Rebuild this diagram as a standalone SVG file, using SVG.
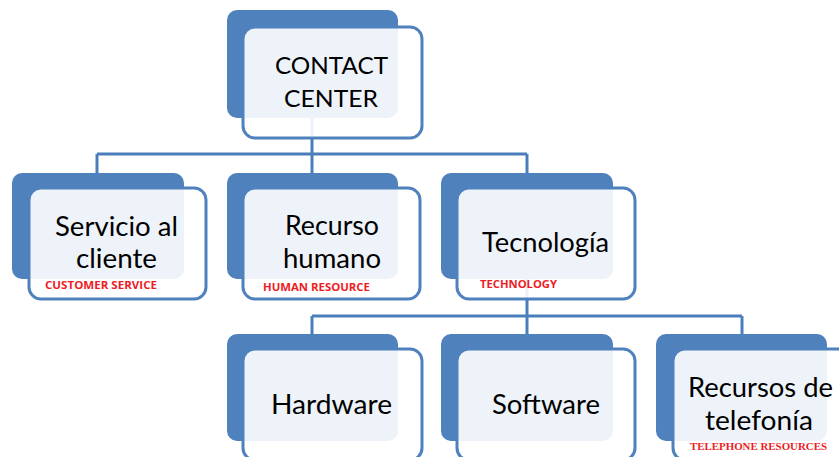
<svg xmlns="http://www.w3.org/2000/svg" width="839" height="457" viewBox="0 0 839 457">
  <style>
    .back { fill: #4F81BD; }
    .front { fill: #FFFFFF; fill-opacity: 0.9; stroke: #4F81BD; stroke-width: 3; }
    .link { fill: none; stroke: #4A7EBB; stroke-width: 3; }
    .lbl { font-family: Lato, "Open Sans", "Liberation Sans", sans-serif; fill: #000000; }
    .en { font-family: "Open Sans", "Liberation Sans", sans-serif; font-weight: bold; font-size: 10px; fill: #EE1C25; }
    .en-serif { font-family: "Liberation Serif", serif; font-weight: bold; font-size: 10.5px; fill: #EE1C25; }
  </style>
  <rect width="839" height="457" fill="#FFFFFF"/>

  <!-- tree connectors, drawn first so node fronts tint them -->
  <g id="connectors">
    <path class="link" d="M312 118 V154 M97 154 H527 M97 154 V173 M312 154 V173 M527 154 V173"/>
    <path class="link" d="M527 279 V316 M312 316 H742 M312 316 V334 M527 316 V334 M742 316 V334"/>
  </g>

  <g id="contact-center">
    <rect class="back" x="227" y="10" width="171" height="108" rx="10"/>
    <rect class="front" x="243" y="27" width="179" height="111" rx="12"/>
    <text class="lbl" font-size="24" x="275" y="74" textLength="113" lengthAdjust="spacingAndGlyphs">CONTACT</text>
    <text class="lbl" font-size="24" x="284" y="107" textLength="94" lengthAdjust="spacingAndGlyphs">CENTER</text>
  </g>

  <g id="servicio-al-cliente">
    <rect class="back" x="12" y="173" width="172" height="106" rx="10"/>
    <rect class="front" x="29" y="188" width="177" height="111" rx="12"/>
    <text class="lbl" font-size="26" x="55" y="236" textLength="123" lengthAdjust="spacingAndGlyphs">Servicio al</text>
    <text class="lbl" font-size="26" x="76" y="268" textLength="81" lengthAdjust="spacingAndGlyphs">cliente</text>
    <text class="en" x="45" y="289" textLength="112" lengthAdjust="spacingAndGlyphs">CUSTOMER SERVICE</text>
  </g>

  <g id="recurso-humano">
    <rect class="back" x="227" y="173" width="171" height="106" rx="10"/>
    <rect class="front" x="243" y="188" width="177" height="111" rx="12"/>
    <text class="lbl" font-size="26" x="285" y="235" textLength="94" lengthAdjust="spacingAndGlyphs">Recurso</text>
    <text class="lbl" font-size="26" x="283" y="268" textLength="98" lengthAdjust="spacingAndGlyphs">humano</text>
    <text class="en" x="263" y="291" textLength="107" lengthAdjust="spacingAndGlyphs">HUMAN RESOURCE</text>
  </g>

  <g id="tecnologia">
    <rect class="back" x="441" y="173" width="172" height="106" rx="10"/>
    <rect class="front" x="457" y="188" width="178" height="111" rx="12"/>
    <text class="lbl" font-size="26" x="482" y="252" textLength="127" lengthAdjust="spacingAndGlyphs">Tecnología</text>
    <text class="en" x="480" y="288" textLength="77" lengthAdjust="spacingAndGlyphs">TECHNOLOGY</text>
  </g>

  <g id="hardware">
    <rect class="back" x="227" y="334" width="171" height="107" rx="10"/>
    <rect class="front" x="243" y="349" width="179" height="111" rx="12"/>
    <text class="lbl" font-size="26" x="271" y="414" textLength="121" lengthAdjust="spacingAndGlyphs">Hardware</text>
  </g>

  <g id="software">
    <rect class="back" x="441" y="334" width="172" height="107" rx="10"/>
    <rect class="front" x="457" y="349" width="178" height="111" rx="12"/>
    <text class="lbl" font-size="26" x="492" y="414" textLength="108" lengthAdjust="spacingAndGlyphs">Software</text>
  </g>

  <g id="recursos-de-telefonia">
    <rect class="back" x="656" y="334" width="171" height="107" rx="10"/>
    <rect class="front" x="673" y="349" width="179" height="111" rx="12"/>
    <text class="lbl" font-size="26" x="688" y="397" textLength="145" lengthAdjust="spacingAndGlyphs">Recursos de</text>
    <text class="lbl" font-size="26" x="705" y="430" textLength="108" lengthAdjust="spacingAndGlyphs">telefonía</text>
    <text class="en-serif" x="690" y="450" textLength="137" lengthAdjust="spacingAndGlyphs">TELEPHONE RESOURCES</text>
  </g>
</svg>
